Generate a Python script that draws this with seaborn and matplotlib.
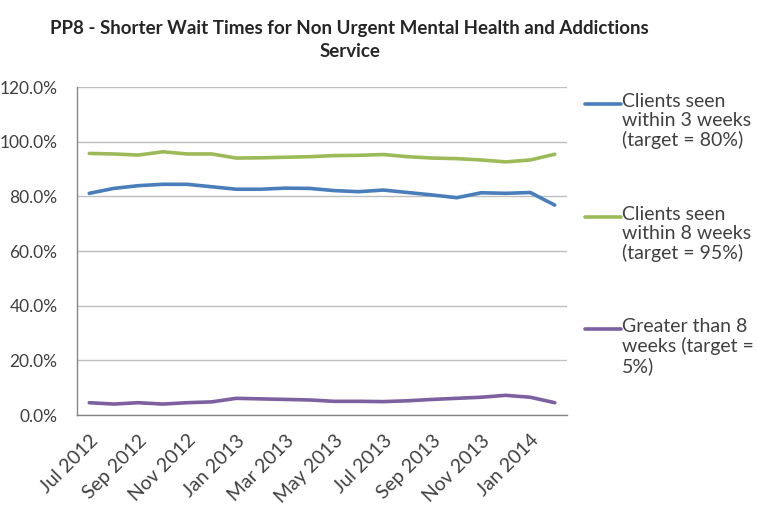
import numpy as np
import pandas as pd
import seaborn as sns
import matplotlib.pyplot as plt
from matplotlib.lines import Line2D

# monthly data, Jul 2012 - Feb 2014
months = [
    "Jul 2012", "Aug 2012", "Sep 2012", "Oct 2012", "Nov 2012", "Dec 2012",
    "Jan 2013", "Feb 2013", "Mar 2013", "Apr 2013", "May 2013", "Jun 2013",
    "Jul 2013", "Aug 2013", "Sep 2013", "Oct 2013", "Nov 2013", "Dec 2013",
    "Jan 2014", "Feb 2014",
]
within_3_weeks = [81.1, 82.9, 83.9, 84.4, 84.4, 83.5, 82.6, 82.6, 83.0, 82.9,
                  82.1, 81.7, 82.3, 81.4, 80.5, 79.5, 81.3, 81.1, 81.4, 76.8]
within_8_weeks = [95.7, 95.5, 95.1, 96.3, 95.5, 95.5, 94.0, 94.1, 94.3, 94.5,
                  94.9, 95.0, 95.3, 94.5, 94.0, 93.8, 93.3, 92.6, 93.3, 95.4]
over_8_weeks = [4.5, 4.0, 4.5, 4.0, 4.5, 4.8, 6.1, 5.9, 5.7, 5.5,
                5.0, 5.0, 4.9, 5.2, 5.7, 6.1, 6.5, 7.2, 6.5, 4.5]
series_names = [
    "Clients seen\nwithin 3 weeks\n(target = 80%)",
    "Clients seen\nwithin 8 weeks\n(target = 95%)",
    "Greater than 8\nweeks (target =\n5%)",
]
colors = ["#4A7EBB", "#9BBB59", "#7D60A0"]

n = len(months)
df = pd.DataFrame({
    "pos": list(range(n)) * 3,
    "value": within_3_weeks + within_8_weeks + over_8_weeks,
    "series": [s for s in series_names for _ in range(n)],
})

sns.set_style("white")
plt.rcParams["font.family"] = ["Lato", "DejaVu Sans"]
text_color = "#404040"

fig = plt.figure(figsize=(7.57, 5.07), dpi=100)
ax = fig.add_axes([77 / 757, 1 - 415 / 507, 490 / 757, 328 / 507])
sns.lineplot(data=df, x="pos", y="value", hue="series", hue_order=series_names,
             palette=colors, linewidth=2.6, legend=False, ax=ax)

ax.set_xlim(-0.5, n - 0.5)
ax.set_ylim(0, 120)
ax.set_yticks(np.arange(0, 121, 20))
ax.set_yticklabels([f"{v:.1f}%" for v in np.arange(0, 121, 20)], fontsize=12.5, color=text_color)
ax.set_xticks(range(0, n, 2))
ax.set_xticklabels(months[::2], rotation=45, ha="right", rotation_mode="anchor",
                   fontsize=14, color=text_color)
ax.set_xticks(np.arange(-0.5, n, 1), minor=True)
ax.tick_params(axis="x", which="major", length=0, pad=12)
ax.tick_params(axis="x", which="minor", length=6, color="#868686", width=1)
ax.tick_params(axis="y", length=7, color="#868686", width=1, pad=7)
ax.set_xlabel("")
ax.set_ylabel("")
ax.yaxis.grid(True, color="#BFBFBF", linewidth=1)
for side in ["top", "right"]:
    ax.spines[side].set_visible(False)
for side in ["left", "bottom"]:
    ax.spines[side].set_color("#868686")
    ax.spines[side].set_linewidth(1)

fig.text(0.462, 1 - 40 / 507,
         "PP8 - Shorter Wait Times for Non Urgent Mental Health and Addictions\nService",
         ha="center", va="center", fontsize=13.5, fontweight="bold", color="#262626",
         linespacing=1.4)

# legend drawn by hand so the line sits on the first text row
for i, (name, color) in enumerate(zip(series_names, colors)):
    y = 1 - (104 + i * 112.5) / 507
    fig.add_artist(Line2D([585 / 757, 621 / 757], [y, y], color=color, linewidth=2.6,
                          transform=fig.transFigure))
    fig.text(622 / 757, y + 11 / 507, name, ha="left", va="top", fontsize=14,
             color=text_color, linespacing=1.15)

fig.savefig("out.png", dpi=100, facecolor="white")
